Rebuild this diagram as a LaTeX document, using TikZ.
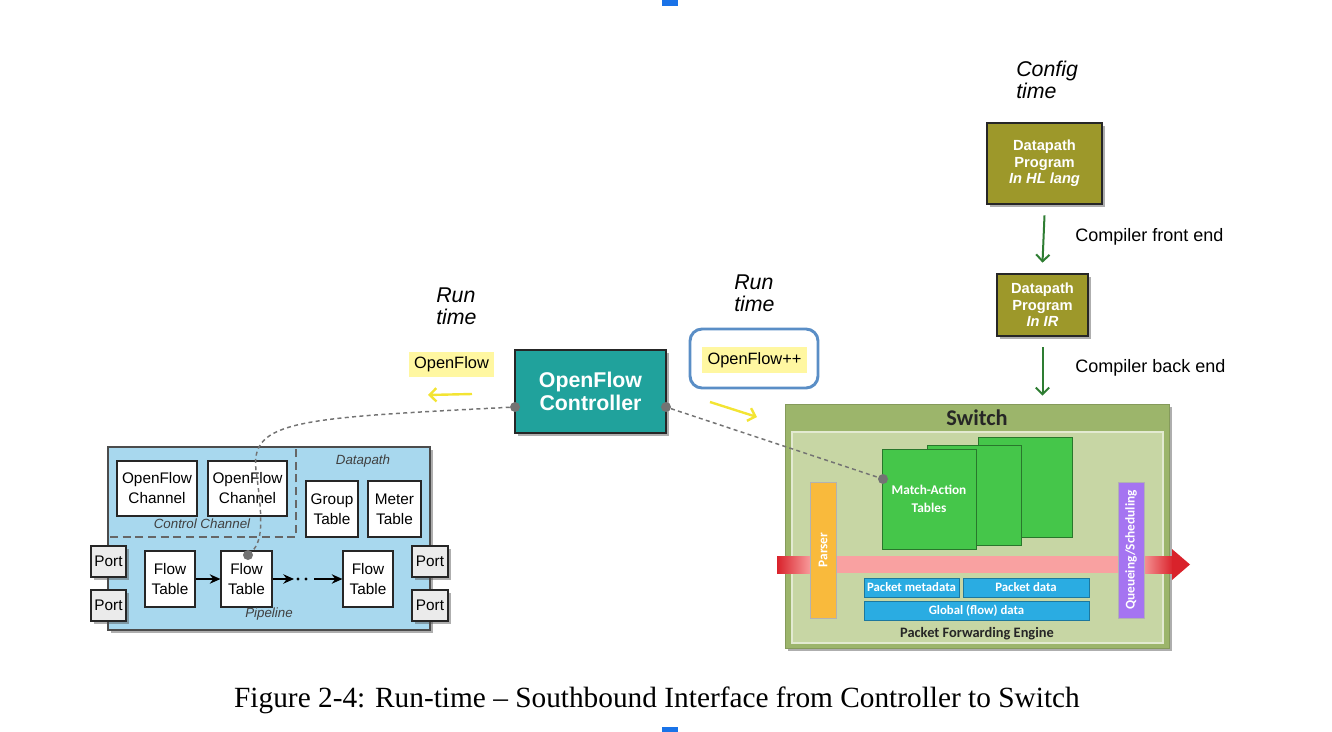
\documentclass[tikz,border=0pt]{standalone}
\usepackage{fontspec}
\setmainfont{Liberation Serif}
\setsansfont{Liberation Sans}
\newfontfamily\calib{Carlito}
\usetikzlibrary{arrows.meta,positioning,calc,fit,shadows}
\definecolor{sky}{HTML}{A8D8EE}
\definecolor{tealc}{HTML}{20A29C}
\definecolor{olive}{HTML}{9D982A}
\definecolor{leaf}{HTML}{2E7D32}
\definecolor{swout}{HTML}{9CB56B}
\definecolor{swin}{HTML}{C7D6A4}
\definecolor{mat}{HTML}{45C64A}
\definecolor{pars}{HTML}{F9BA3C}
\definecolor{queue}{HTML}{A574F1}
\definecolor{dat}{HTML}{2AACE2}
\definecolor{pinkb}{HTML}{F9A1A1}
\definecolor{redb}{HTML}{D9222B}
\definecolor{hilite}{HTML}{FFF7A1}
\definecolor{yarr}{HTML}{F3E433}
\definecolor{frame}{HTML}{5A8EC6}
\definecolor{pagemark}{HTML}{1A73E8}
\begin{document}
\begin{tikzpicture}[x=.75pt,y=-.75pt,>=Latex,
 shad/.style={drop shadow={shadow xshift=2pt,shadow yshift=-2pt,opacity=.45,fill=black!70}},
 sf/.style={font=\sffamily\fontsize{11.5}{15}\selectfont},
 lbl/.style 2 args={label={[inner sep=0pt,align=center,#1]center:#2}},
 b/.style={draw=black!85,fill=white,inner sep=0pt,line width=.8pt},
 bt/.style={lbl={sf}{#1}},
 port/.style={b,fill=black!8,shad},
 it/.style={font=\sffamily\itshape\fontsize{10}{12}\selectfont,text=black!75,inner sep=0pt},
 rt/.style={font=\sffamily\itshape\fontsize{16}{16.5}\selectfont,align=left,inner sep=0pt},
 prog/.style={draw=black!85,fill=olive,inner sep=0pt,line width=1pt,shad},
 progt/.style={lbl={text=white,font=\sffamily\bfseries\fontsize{11}{12.5}\selectfont}{#1}},
 hlt/.style={fill=hilite,inner sep=0pt},
 hltt/.style={lbl={font=\sffamily\fontsize{12.3}{14}\selectfont}{#1}},
 dot/.style={circle,fill=black!55,inner sep=0pt,minimum size=7.5pt},
 con/.style={draw=black!55,line width=1.1pt,dash pattern=on 3pt off 2.5pt},
 fa/.style={draw=black,line width=1.4pt,-{Stealth[length=8pt,width=7pt]}},
 ya/.style={draw=yarr,line width=1.8pt,-{Straight Barb[length=5pt,width=10pt]}},
 ga/.style={draw=leaf,line width=1.5pt,-{Straight Barb[length=5pt,width=10pt]}},
 tbl/.style={fill=mat,draw=mat!60!black,line width=.6pt,inner sep=0pt},
 db/.style={fill=dat,draw=dat!70!black,line width=.5pt,inner sep=0pt,lbl={text=white,font=\calib\bfseries\fontsize{9.6}{11}\selectfont}{#1}},
 bar/.style={draw=black!30,line width=.5pt,inner sep=0pt,lbl={text=white,rotate=90,font=\calib\bfseries\fontsize{10}{12}\selectfont}{#1}}]
\useasboundingbox (0,0) rectangle (1332,732);
\fill[pagemark] (662,0) rectangle (678,6);
\fill[pagemark] (662,727) rectangle (678,732);

% OpenFlow datapath
\node[draw=black!70,fill=sky,line width=.8pt,inner sep=0pt,shad,fit={(108,447) (430,630)}] (pan) {};
\draw[black!60,line width=1.1pt,dash pattern=on 6pt off 3.5pt] (110,537) -- (296,537) -- (296,448);
\node[b,bt={OpenFlow\\Channel},fit={(117,461) (197,516)}] (ch1) {};
\node[b,bt={OpenFlow\\Channel},fit={(208,461) (287,516)}] (ch2) {};
\node[it] (cc) at (202,524) {Control Channel};
\node[it] (dp) at (363,461) {Datapath};
\node[b,bt={Group\\Table},fit={(306,481) (358,537)}] (grp) {};
\node[b,bt={Meter\\Table},fit={(368,481) (421,537)}] (met) {};
\node[b,bt={Flow\\Table},fit={(145,551) (195,607)}] (ft1) {};
\node[b,bt={Flow\\Table},fit={(221,551) (272,607)}] (ft2) {};
\node[b,bt={Flow\\Table},fit={(343,551) (393,607)}] (ft3) {};
\node[it] (pl) at (269,614) {Pipeline};
\node[port,bt=Port,fit={(91,546) (126,577)}] (p1) {};
\node[port,bt=Port,fit={(91,590) (126,621)}] (p2) {};
\node[port,bt=Port,fit={(412,546) (448,577)}] (p3) {};
\node[port,bt=Port,fit={(412,590) (448,621)}] (p4) {};
\coordinate (d1) at (294,579);
\coordinate (d2) at (314,579);
\draw[fa] (ft1) -- (ft2);
\draw[fa] (ft2) -- (d1);
\draw[black,line width=2.6pt,dash pattern=on 0pt off 6pt,line cap=round] (d1) ++(4,0) -- (d2);
\draw[fa] (d2) -- (ft3);

% controller
\node[draw=black!85,fill=tealc,line width=1.2pt,inner sep=0pt,shad,
 lbl={text=white,font=\sffamily\bfseries\fontsize{16}{17.5}\selectfont}{OpenFlow\\Controller},
 fit={(515,350) (666,433)}] (ctl) {};
\node[rt,anchor=west] (rt1) at (436,306) {Run\\time};
\node[rt,anchor=west] (rt2) at (734,293) {Run\\time};
\node[hlt,hltt=OpenFlow,fit={(409,352) (494,377)}] (of) {};
\node[draw=frame,line width=2.2pt,rounded corners=9pt,inner sep=0pt,fit={(690,329) (818,388)}] (ofpp) {};
\node[hlt,hltt=OpenFlow++,fit={(702,347) (807,373)}] (ofppt) {};
\coordinate (ya1) at (472,394); \coordinate (ya2) at (428,395);
\coordinate (ya3) at (710,402); \coordinate (ya4) at (757,417);
\draw[ya] (ya1) -- (ya2);
\draw[ya] (ya3) -- (ya4);

% config time
\node[rt,anchor=west] (cfg) at (1016,80) {Config\\time};
\node[prog,progt={Datapath\\Program\\\textit{In HL lang}},fit={(987,123) (1102,204)}] (hl) {};
\node[prog,progt={Datapath\\Program\\\textit{In IR}},fit={(997,274) (1088,336)}] (ir) {};
\node[font=\sffamily\fontsize{13.5}{15}\selectfont,anchor=west,inner sep=0pt] (cfe) at (1075,237) {Compiler front end};
\node[font=\sffamily\fontsize{13.5}{15}\selectfont,anchor=west,inner sep=0pt] (cbe) at (1075,368) {Compiler back end};

% switch
\node[fill=swout,draw=swout!85!black,line width=.6pt,inner sep=0pt,shad,fit={(785,404) (1169,648)}] (sw) {};
\node[fill=swin,draw=swin!50!white,line width=1pt,inner sep=0pt,fit={(792,432) (1163,643)}] (pfe) {};
\node[font=\calib\bfseries\fontsize{16.8}{18}\selectfont,text=black!85] (swl) at (977,418) {Switch};
\node[tbl,fit={(978,437) (1072,537)}] (mt3) {};
\node[tbl,fit={(927,445) (1021,545)}] (mt2) {};
\node[tbl,lbl={text=white,font=\calib\bfseries\fontsize{10}{14}\selectfont}{Match-Action\\Tables},fit={(882,449) (976,549)}] (mt1) {};
\fill[pinkb] (810,556) rectangle (1142,573);
\shade[left color=redb,right color=pinkb] (777,556) rectangle (812,573);
\shade[left color=pinkb,right color=redb] (1140,556) rectangle (1173,573);
\fill[redb] (1172,549) -- (1190,564.5) -- (1172,580) -- cycle;
\node[bar=Parser,fill=pars,fit={(810,482) (836,618)}] (prs) {};
\node[bar=Queueing/Scheduling,fill=queue,fit={(1118,482) (1144,618)}] (qs) {};
\node[db=Packet metadata,fit={(864,578) (959,597)}] (pm) {};
\node[db=Packet data,fit={(963,578) (1089,597)}] (pd) {};
\node[db=Global (flow) data,fit={(864,601) (1089,620)}] (gd) {};
\node[font=\calib\bfseries\fontsize{10.8}{12}\selectfont,text=black!85] (pfel) at (977,634) {Packet Forwarding Engine};

% southbound links
\node[dot] (dl) at (515,407) {};
\node[dot] (dr) at (666,407) {};
\node[dot] (dft) at (248,555) {};
\node[dot] (dm) at (883,479) {};
\draw[con] (dl) .. controls (300,418) and (250,420) .. (256,470) .. controls (262,515) and (264,540) .. (dft);
\draw[con] (dr) -- (dm);
\draw[ga] ([yshift=-8pt]hl.south) -- ([yshift=8pt]ir.north);
\draw[ga] ([yshift=-8pt]ir.south) -- ([yshift=6pt]ir.south |- sw.north);

\node[font=\fontsize{22}{26}\selectfont] (cap) at (657,700) {Figure 2-4: Run-time -- Southbound Interface from Controller to Switch};
\end{tikzpicture}
\end{document}
